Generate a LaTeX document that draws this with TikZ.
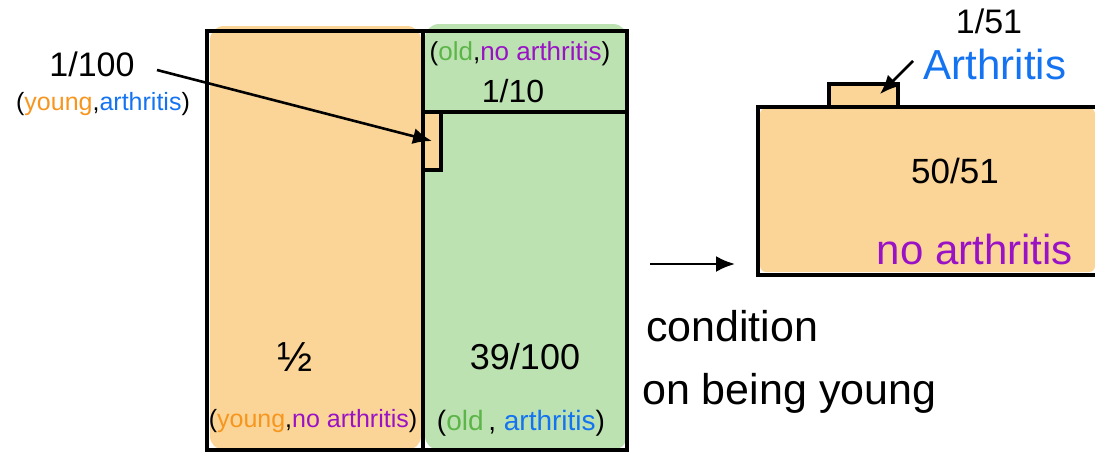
\documentclass[tikz,border=0pt]{standalone}
\usepackage{fontspec}
\setmainfont{Liberation Sans}
\usetikzlibrary{arrows.meta}
\definecolor{orfill}{HTML}{FBD597}
\definecolor{grfill}{HTML}{BDE2B2}
\definecolor{ortxt}{HTML}{F7961E}
\definecolor{bltxt}{HTML}{1473F0}
\definecolor{putxt}{HTML}{9A12C6}
\definecolor{grtxt}{HTML}{5CB548}
\newcommand{\fsz}[1]{\fontsize{#1}{#1}\selectfont}
\tikzset{
  txt/.style={inner sep=0pt},
  thickline/.style={line width=4.5pt},
  midline/.style={line width=3.5pt},
  arr/.style={line width=2.6pt, -{Latex[length=19pt,width=16pt]}}
}
\begin{document}
\begin{tikzpicture}[x=1pt,y=-1pt]
\useasboundingbox (0,0) rectangle (1095,453);
% fills
\fill[orfill, rounded corners=14pt] (210,26) rectangle (421,450);
\fill[grfill, rounded corners=14pt] (425,24) rectangle (627,450);
% main frame
\draw[thickline] (207,31) rectangle (627,450);
\draw[midline] (423,31) -- (423,450);
\draw[midline] (423,112) -- (627,112);
\node[draw, midline, fill=orfill, minimum width=18pt, minimum height=58pt, inner sep=0pt] (sm) at (432,141) {};
% left labels
\node[txt, font=\fsz{34}] (n100) at (92,64) {1/100};
\node[txt, font=\fsz{25}] (yart) at (103,104) {(\textcolor{ortxt}{young},\textcolor{bltxt}{arthritis})};
\coordinate (a1) at (157,70);
\draw[arr] (a1) -- (sm.center);
% cells
\node[txt, font=\fsz{26}] (ona) at (520,54) {(\textcolor{grtxt}{old},\textcolor{putxt}{no arthritis})};
\node[txt, font=\fsz{32}] (n10) at (513,91) {1/10};
\node[txt, font=\fsz{42}] (nhalf) at (295,357) {½};
\node[txt, font=\fsz{25}] (yna) at (313,421) {(\textcolor{ortxt}{young},\textcolor{putxt}{no arthritis})};
\node[txt, font=\fsz{36}] (n39) at (525,357) {39/100};
\node[txt, font=\fsz{28}] (oa) at (521,423) {(\textcolor{grtxt}{old}\,, \textcolor{bltxt}{arthritis})};
% condition arrow
\coordinate (c1) at (650,264);
\coordinate (c2) at (735,264);
\draw[arr] (c1) -- (c2);
\node[txt, font=\fsz{43}, anchor=west] (cond) at (646,326) {condition};
\node[txt, font=\fsz{43}, anchor=west] (onb) at (642,393) {on being young};
% right box
\fill[orfill, rounded corners=6pt] (760,108) rectangle (1095,272);
\draw[midline, fill=orfill] (829,106) -- (829,84) -- (898,84) -- (898,106);
\draw[midline] (1100,107) -- (758,107) -- (758,275) -- (1100,275);
\node[txt, font=\fsz{34}] (n51) at (989,21) {1/51};
\node[txt, font=\fsz{42}, text=bltxt] (art) at (995,64) {Arthritis};
\coordinate (t1) at (913,61);
\coordinate (t2) at (880,94);
\draw[arr] (t1) -- (t2);
\node[txt, font=\fsz{35}] (n5051) at (955,171) {50/51};
\node[txt, font=\fsz{42}, text=putxt] (nart) at (975,249) {no arthritis};
\end{tikzpicture}
\end{document}
